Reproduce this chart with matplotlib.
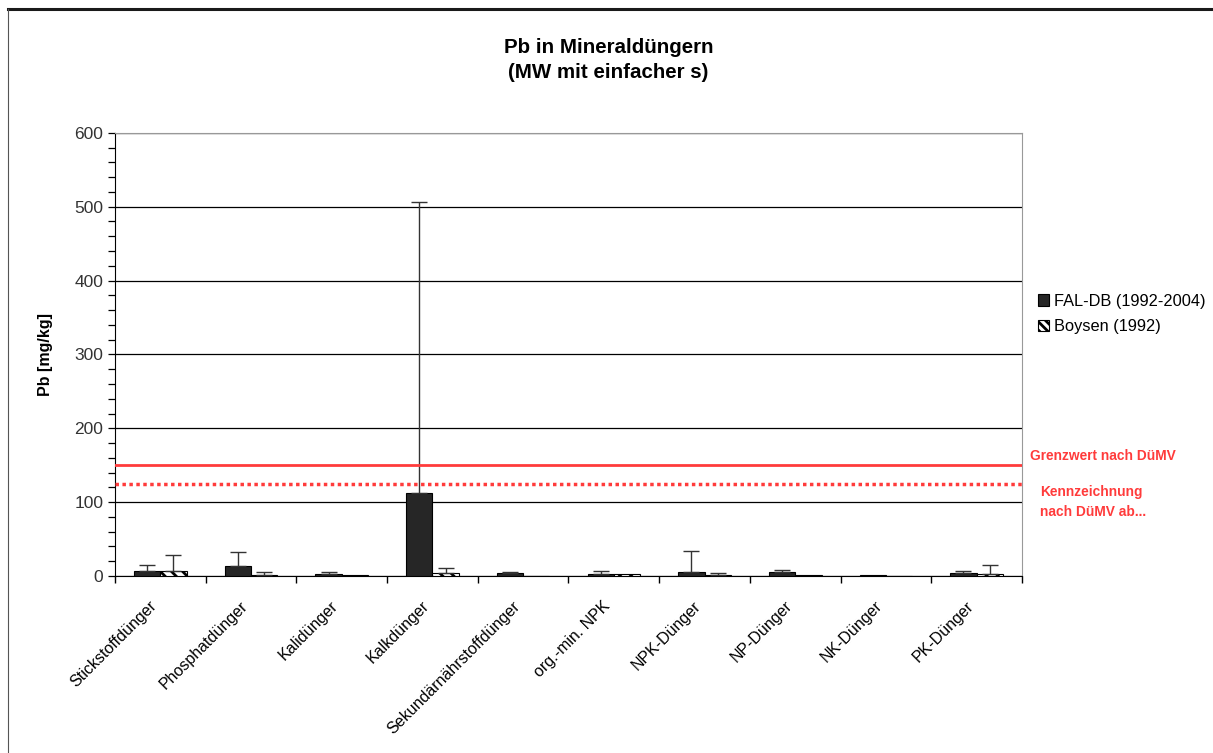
import numpy as np
import matplotlib
matplotlib.use("Agg")
import matplotlib.pyplot as plt
import matplotlib.transforms as mtransforms
from matplotlib.lines import Line2D
from matplotlib.patches import Patch
from matplotlib.ticker import MultipleLocator

plt.rcParams['font.family'] = ['Liberation Sans', 'DejaVu Sans']
plt.rcParams['hatch.linewidth'] = 2.0

categories = ['Stickstoffdünger', 'Phosphatdünger', 'Kalidünger', 'Kalkdünger',
              'Sekundärnährstoffdünger', 'org.-min. NPK', 'NPK-Dünger',
              'NP-Dünger', 'NK-Dünger', 'PK-Dünger']
fal_mean = [7.5, 13, 3, 113, 4.5, 3, 6, 6, 1.5, 4.5]
fal_sd = [8, 19, 2.5, 393, 1.5, 4, 27.5, 2.5, 0, 2.5]
boysen_mean = [7.5, 2, 1.5, 4, 0, 2.5, 2, 2, 0, 3]
boysen_sd = [20.5, 3.5, 0, 7.5, 0, 0, 2.5, 0, 0, 12.5]
series_labels = ['FAL-DB (1992-2004)', 'Boysen (1992)']
grenzwert = 150
kennzeichnung = 125

fig = plt.figure(figsize=(12.13, 7.53), dpi=100)
ax = fig.add_axes([0.0948, 0.235, 0.7477, 0.5886])

x = np.arange(len(categories))
w = 0.29
fal_color = '#262626'
hatch = '\\\\\\'

ax.bar(x - w / 2, fal_mean, width=w, color=fal_color, edgecolor='black',
       linewidth=0.8, zorder=3)
ax.bar(x + w / 2, boysen_mean, width=w, color='white', edgecolor='black',
       hatch=hatch, linewidth=0.8, zorder=3)


def upper_errors(xs, means, sds):
    xs = np.asarray(xs)
    means = np.asarray(means, dtype=float)
    sds = np.asarray(sds, dtype=float)
    m = sds > 0
    ax.errorbar(xs[m], means[m], yerr=[np.zeros(m.sum()), sds[m]], fmt='none',
                ecolor='#333333', elinewidth=1.0, capsize=6, capthick=1.0,
                zorder=4)


upper_errors(x - w / 2, fal_mean, fal_sd)
upper_errors(x + w / 2, boysen_mean, boysen_sd)

# limit lines
ax.axhline(grenzwert, color='#ff3b3b', linewidth=2, zorder=5)
ax.axhline(kennzeichnung, color='#ff3b3b', linewidth=2.5, linestyle=(0, (1, 1)),
           zorder=5)

ax.set_xlim(-0.5, len(categories) - 0.5)
ax.set_ylim(0, 600)
ax.yaxis.set_major_locator(MultipleLocator(100))
ax.yaxis.set_minor_locator(MultipleLocator(20))
ax.grid(axis='y', which='major', color='black', linewidth=0.9, zorder=0)
ax.set_axisbelow(True)

ax.set_xticks(np.arange(len(categories) + 1) - 0.5)
ax.set_xticklabels([])
ax.set_xticks(x, minor=True)
ax.set_xticklabels(categories, minor=True, rotation=45, ha='right', va='top',
                   rotation_mode='anchor', fontsize=11.5)
ax.tick_params(axis='x', which='minor', length=0, pad=16)
ax.tick_params(axis='x', which='major', length=5, width=1, direction='out')
ax.tick_params(axis='y', which='both', length=5, width=0.9, direction='out',
               labelsize=12.5, colors='black')
ax.tick_params(axis='y', labelcolor='#333333')

shift = mtransforms.ScaledTranslation(-11 / 100, 0, fig.dpi_scale_trans)
for lbl in ax.get_xticklabels(minor=True):
    lbl.set_transform(lbl.get_transform() + shift)

for s in ['top', 'right']:
    ax.spines[s].set_color('#999999')
for s in ['left', 'bottom']:
    ax.spines[s].set_color('black')

ax.set_ylabel('Pb [mg/kg]', fontsize=11.5, fontweight='bold', labelpad=15)

fig.text(0.5015, 1 - 60 / 753, 'Pb in Mineraldüngern\n(MW mit einfacher s)',
         ha='center', va='center', fontsize=14.8, fontweight='bold',
         linespacing=1.45)

fig.text(1030 / 1213, 1 - 456 / 753, 'Grenzwert nach DüMV', color='#ff3b3b',
         fontsize=9.9, fontweight='bold', ha='left', va='center')
fig.text(1040 / 1213, 1 - 502 / 753, 'Kennzeichnung\nnach DüMV ab...',
         color='#ff3b3b', fontsize=9.9, fontweight='bold', ha='left',
         va='center', linespacing=1.5)

handles = [Patch(facecolor=fal_color, edgecolor='black', linewidth=0.8),
           Patch(facecolor='white', edgecolor='black', hatch='\\\\\\\\',
                 linewidth=0.8)]
fig.legend(handles, series_labels, loc='center left',
           bbox_to_anchor=(1023 / 1213, 1 - 314 / 753), frameon=False,
           fontsize=11.8, handlelength=0.7, handleheight=0.7,
           handletextpad=0.3, labelspacing=0.65)

# page frame
fig.add_artist(Line2D([8 / 1213, 1], [1 - 9 / 753, 1 - 9 / 753],
                      color='#1a1a1a', linewidth=2.2))
fig.add_artist(Line2D([8 / 1213, 8 / 1213], [0, 1 - 9 / 753],
                      color='#555555', linewidth=0.8))

fig.savefig('out.png', dpi=100)
